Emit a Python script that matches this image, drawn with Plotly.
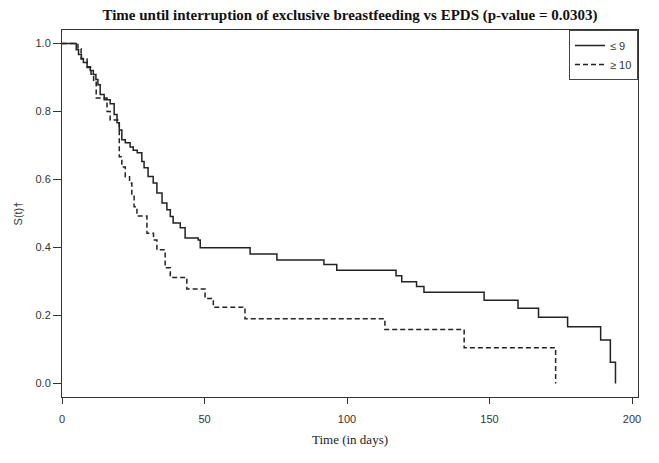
import plotly.graph_objects as go

# Kaplan-Meier step data
times_le9 = [0, 5.0, 5.8, 6.8, 7.5, 8.8, 9.9, 11.0, 11.9, 12.6,
             13.4, 14.8, 16.9, 18.3, 19.3, 20.1, 21.0, 22.2, 23.9, 25.0,
             26.4, 28.0, 28.8, 30.2, 32.0, 33.3, 35.1, 36.8, 38.0, 39.0,
             41.5, 43.2, 47.8, 48.5, 66.0, 75.4, 91.9, 96.4, 117.2, 119.2,
             124.4, 127.0, 148.1, 160.0, 167.2, 177.4, 189.0, 192.4, 194.2]
surv_le9 = [1.0, 0.982, 0.968, 0.956, 0.944, 0.932, 0.921, 0.909, 0.894, 0.879,
            0.850, 0.835, 0.823, 0.791, 0.767, 0.746, 0.717, 0.708, 0.696, 0.686,
            0.679, 0.653, 0.635, 0.609, 0.590, 0.560, 0.531, 0.511, 0.491, 0.472,
            0.458, 0.428, 0.422, 0.399, 0.381, 0.363, 0.350, 0.333, 0.317, 0.299,
            0.285, 0.268, 0.245, 0.221, 0.195, 0.167, 0.128, 0.062, 0.0]

times_ge10 = [0, 5.6, 6.7, 8.8, 10.2, 11.1, 12.0, 15.8, 16.9, 20.1,
              21.0, 22.2, 23.7, 24.5, 25.3, 26.3, 29.8, 32.1, 33.3, 36.2,
              38.0, 43.8, 50.2, 53.1, 64.2, 113.3, 141.1, 173.2]
surv_ge10 = [1.0, 0.985, 0.955, 0.93, 0.91, 0.89, 0.84, 0.80, 0.775, 0.667,
             0.637, 0.608, 0.590, 0.555, 0.520, 0.493, 0.442, 0.422, 0.393, 0.34,
             0.312, 0.278, 0.25, 0.224, 0.19, 0.159, 0.105, 0.0]

series_names = ["\u2264 9", "\u2265 10"]
x_ticks = [0, 50, 100, 150, 200]
y_ticks = [0.0, 0.2, 0.4, 0.6, 0.8, 1.0]
y_tick_labels = ["0.0", "0.2", "0.4", "0.6", "0.8", "1.0"]

title_text = "Time until interruption of exclusive breastfeeding vs EPDS (p-value = 0.0303)"

# page body has an 8px default margin: the figure is sized to fit inside
FIG_W, FIG_H = 651, 455

fig = go.Figure()
fig.add_trace(go.Scatter(
    x=times_le9, y=surv_le9, mode="lines", line_shape="hv",
    line=dict(color="#222222", width=1.5), name=series_names[0]))
fig.add_trace(go.Scatter(
    x=times_ge10, y=surv_ge10, mode="lines", line_shape="hv",
    line=dict(color="#222222", width=1.5, dash="5px,3px"), name=series_names[1]))

axis_font = dict(family="Liberation Sans, Arial, sans-serif", size=11, color="#333333")

fig.update_layout(
    width=FIG_W, height=FIG_H,
    margin=dict(l=54, r=21, t=22, b=66, autoexpand=False),
    paper_bgcolor="white", plot_bgcolor="white",
    title=dict(text="<b>" + title_text + "</b>", x=0.5, xref="paper", xanchor="center",
               y=1 - 7 / FIG_H, yanchor="middle",
               font=dict(family="Liberation Serif, Times New Roman, serif", size=15, color="#111111")),
    showlegend=True,
    legend=dict(x=1, y=1, xanchor="right", yanchor="top",
                bgcolor="white", bordercolor="#444444", borderwidth=1,
                font=dict(family="Liberation Sans, Arial, sans-serif", size=11, color="#333333"),
                tracegroupgap=0, itemwidth=30),
    xaxis=dict(range=[0, 202.1], tickvals=x_ticks, ticks="outside", ticklen=6,
               tickcolor="#333333", showline=True, linecolor="#333333", linewidth=1,
               mirror=True, showgrid=False, zeroline=False, tickfont=axis_font,
               ticklabelstandoff=6, automargin=False,
               title=dict(text="Time (in days)", standoff=10,
                          font=dict(family="Liberation Serif, Times New Roman, serif", size=13, color="#222222"))),
    yaxis=dict(range=[-0.04, 1.04], tickvals=y_ticks, ticktext=y_tick_labels,
               ticks="outside", ticklen=8, tickcolor="#333333", showline=True,
               linecolor="#333333", linewidth=1, mirror=True, showgrid=False,
               zeroline=False, tickfont=axis_font, automargin=False,
               title=dict(text="S(t)\u2020", standoff=10,
                          font=dict(family="Liberation Sans, Arial, sans-serif", size=11, color="#333333"))),
)

fig.write_html("out.html")
